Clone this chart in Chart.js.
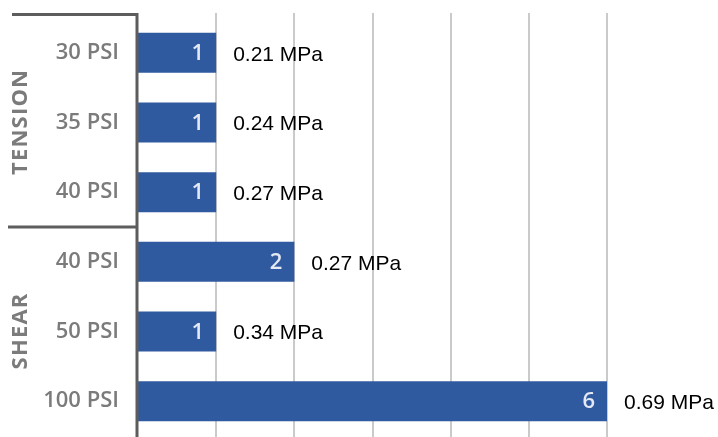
<!DOCTYPE html>
<html>
<head>
<meta charset="utf-8">
<script src="https://cdn.jsdelivr.net/npm/chart.js@4/dist/chart.umd.min.js"></script>
<style>
  html, body { margin: 0; padding: 0; background: #ffffff; }
  #wrap { width: 718px; height: 437px; }
</style>
</head>
<body>
<div id="wrap"><canvas id="c" width="718" height="437"></canvas></div>
<script>
// ---- data ----
const categories = ["30 PSI", "35 PSI", "40 PSI", "40 PSI", "50 PSI", "100 PSI"];
const counts = [1, 1, 1, 2, 1, 6];
const mpaLabels = ["0.21 MPa", "0.24 MPa", "0.27 MPa", "0.27 MPa", "0.34 MPa", "0.69 MPa"];
const groups = [
  { name: "TENSION", from: 0, to: 2 },
  { name: "SHEAR", from: 3, to: 5 }
];
const xTicks = [0, 1, 2, 3, 4, 5, 6];

const GRAY = "#7b7b7b";
const AXIS = "#5d5d5d";
const GRID = "#cacaca";
const BAR = "#305a9f";

function spacedText(ctx, text, spacing) {
  const widths = [...text].map(ch => ctx.measureText(ch).width);
  const total = widths.reduce((a, b) => a + b, 0) + spacing * (text.length - 1);
  let x = -total / 2;
  ctx.textAlign = "left";
  [...text].forEach((ch, i) => {
    ctx.fillText(ch, x, 0);
    x += widths[i] + spacing;
  });
}

const decorPlugin = {
  id: "decor",
  beforeDatasetsDraw(chart) {
    const ctx = chart.ctx;
    const xs = chart.scales.x;
    ctx.save();
    ctx.strokeStyle = GRID;
    ctx.lineWidth = 2;
    xTicks.forEach(v => {
      if (v === 0) return;
      const px = Math.round(xs.getPixelForValue(v));
      ctx.beginPath();
      ctx.moveTo(px, 13);
      ctx.lineTo(px, 437);
      ctx.stroke();
    });
    ctx.restore();
  },
  afterDatasetsDraw(chart) {
    const ctx = chart.ctx;
    const xs = chart.scales.x;
    const ys = chart.scales.y;
    const meta = chart.getDatasetMeta(0);
    ctx.save();
    // axis line and separators
    const ax = xs.getPixelForValue(0) - 1;
    ctx.strokeStyle = AXIS;
    ctx.lineWidth = 3;
    ctx.beginPath();
    ctx.moveTo(12, 14.5);
    ctx.lineTo(ax, 14.5);
    ctx.lineTo(ax, 437);
    ctx.stroke();
    for (let g = 1; g < groups.length; g++) {
      const yy = (ys.getPixelForValue(groups[g - 1].to) + ys.getPixelForValue(groups[g].from)) / 2;
      ctx.beginPath();
      ctx.moveTo(8, yy);
      ctx.lineTo(ax, yy);
      ctx.stroke();
    }
    // group titles
    ctx.fillStyle = GRAY;
    ctx.font = "700 22px 'Open Sans'";
    ctx.textBaseline = "middle";
    groups.forEach((g, i) => {
      const cy = (ys.getPixelForValue(g.from) + ys.getPixelForValue(g.to)) / 2;
      ctx.save();
      ctx.translate(21, cy);
      ctx.rotate(-Math.PI / 2);
      spacedText(ctx, g.name, 1.2);
      ctx.restore();
    });
    // values inside bars and MPa labels
    meta.data.forEach((bar, i) => {
      ctx.font = "600 22px 'Open Sans'";
      ctx.fillStyle = "#e4e9f3";
      ctx.textAlign = "right";
      ctx.textBaseline = "middle";
      ctx.fillText(String(counts[i]), bar.x - 12, bar.y + 1);
      ctx.font = "21px 'Liberation Sans', Arial, sans-serif";
      ctx.fillStyle = "#000000";
      ctx.textAlign = "left";
      ctx.fillText(mpaLabels[i], bar.x + 17, bar.y + 2);
    });
    ctx.restore();
  }
};

new Chart(document.getElementById("c"), {
  type: "bar",
  data: {
    labels: categories,
    datasets: [{
      data: counts,
      backgroundColor: BAR,
      borderWidth: 0,
      barPercentage: 0.575,
      categoryPercentage: 1.0
    }]
  },
  options: {
    indexAxis: "y",
    responsive: false,
    devicePixelRatio: 1,
    animation: false,
    layout: { padding: { left: 0, right: 111, top: 18, bottom: 1 } },
    plugins: { legend: { display: false }, tooltip: { enabled: false } },
    scales: {
      x: {
        min: 0, max: 6,
        afterBuildTicks(scale) { scale.ticks = xTicks.map(v => ({ value: v })); },
        afterFit(scale) { scale.height = 0; scale.paddingLeft = 0; scale.paddingRight = 0; },
        ticks: { display: false },
        grid: { display: false, drawTicks: false },
        border: { display: false }
      },
      y: {
        afterFit(scale) {
          scale.width = 138;
          scale.paddingTop = 0;
          scale.paddingBottom = 0;
        },
        ticks: {
          padding: 19,
          color: GRAY,
          font: { family: "'Open Sans'", size: 22, weight: 600 }
        },
        grid: { display: false, drawTicks: false },
        border: { display: false }
      }
    }
  },
  plugins: [decorPlugin]
});
</script>
</body>
</html>
